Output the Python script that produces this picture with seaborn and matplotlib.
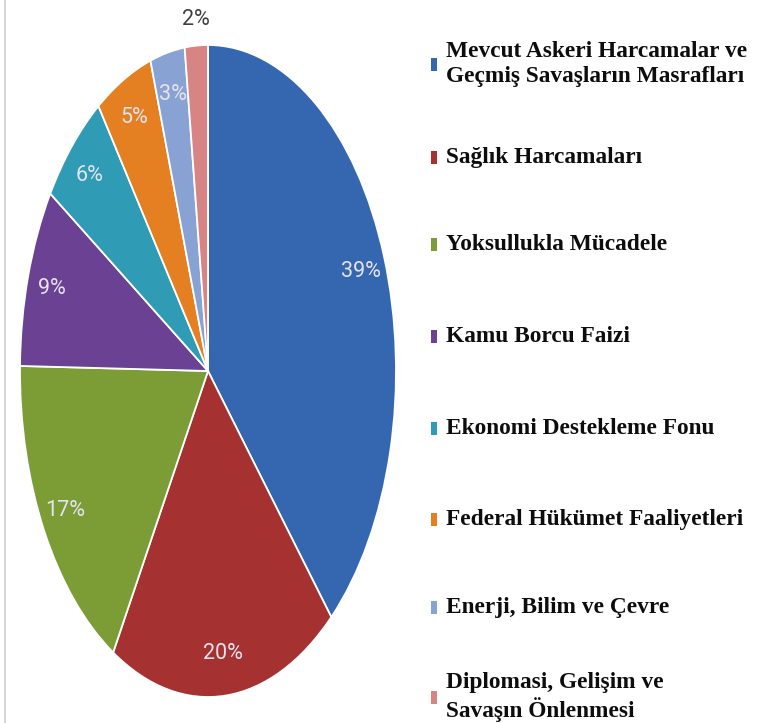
import matplotlib
matplotlib.use("Agg")
import matplotlib.pyplot as plt
import seaborn as sns
import numpy as np

# Dati del grafico
categories = [
    "Mevcut Askeri Harcamalar ve\nGeçmiş Savaşların Masrafları",
    "Sağlık Harcamaları",
    "Yoksullukla Mücadele",
    "Kamu Borcu Faizi",
    "Ekonomi Destekleme Fonu",
    "Federal Hükümet Faaliyetleri",
    "Enerji, Bilim ve Çevre",
    "Diplomasi, Gelişim ve\nSavaşın Önlenmesi",
]
values = [39, 20, 17, 9, 6, 5, 3, 2]
pct_labels = ["39%", "20%", "17%", "9%", "6%", "5%", "3%", "2%"]
colors = ["#3467b0", "#a53130", "#7c9d36", "#6a4193", "#2f9bb4",
          "#e47f22", "#88a3d3", "#d98484"]

sns.set_theme(style="white")
plt.rcParams['font.family'] = ['DejaVu Sans']

W, H = 757, 723
fig = plt.figure(figsize=(W / 100, H / 100), dpi=100)
fig.patch.set_facecolor("white")

# asse della torta, ellittico (piu' alto che largo)
ax = fig.add_axes([20 / W, (H - 697) / H, 376 / W, 652 / H])
wedges, texts = ax.pie(
    values,
    labels=pct_labels,
    colors=colors,
    startangle=90,
    counterclock=False,
    labeldistance=0.87,
    wedgeprops=dict(edgecolor="white", linewidth=1.3),
    textprops=dict(color="#e6e2ee", fontsize=15.5,
                   family=["Roboto", "DejaVu Sans"]),
)
for t in texts:
    t.set_ha("center")
    t.set_va("center")

# etichetta del 2% fuori dalla fetta
w = wedges[-1]
mid = np.deg2rad((w.theta1 + w.theta2) / 2)
texts[-1].set_position((1.08 * np.cos(mid), 1.08 * np.sin(mid)))
texts[-1].set_color("#404040")

ax.set_aspect("auto")
ax.set_xlim(-1, 1)
ax.set_ylim(-1, 1)
ax.axis("off")

# legenda manuale a destra
y_centers = [64, 157, 244, 336, 428, 519, 607, 697]
for cat, col, yc in zip(categories, colors, y_centers):
    fig.patches.append(plt.Rectangle((431 / W, (H - yc - 7) / H), 6 / W, 13 / H,
                                     transform=fig.transFigure, facecolor=col,
                                     edgecolor="none"))
    fig.text(446 / W, (H - yc) / H, cat, ha="left", va="center",
             fontsize=16.8, fontweight="bold", color="#0d0d0d",
             family=["Liberation Serif", "DejaVu Serif"], linespacing=1.2)

# linea grigia sul bordo sinistro
fig.add_artist(plt.Line2D([5 / W, 5 / W], [0, 1], transform=fig.transFigure,
                          color="#d0d0d0", linewidth=1.2))

fig.savefig("out.png", dpi=100)
plt.close()
